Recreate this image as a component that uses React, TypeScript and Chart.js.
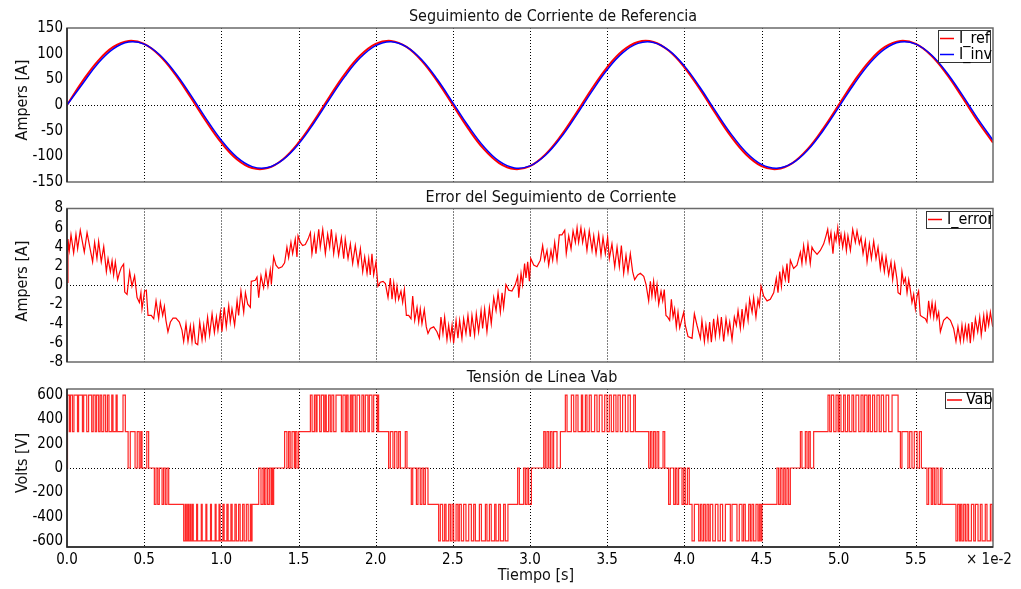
import React, { useEffect, useRef } from "react";
import { Chart, registerables } from "chart.js";

Chart.register(...registerables);

const FONT = '"DejaVu Sans Condensed", "DejaVu Sans", sans-serif';

// ---------- shared x axis (time, units of 1e-2 s) ----------
const xTickValues = [0, 0.5, 1.0, 1.5, 2.0, 2.5, 3.0, 3.5, 4.0, 4.5, 5.0, 5.5, 6.0];
const xTickLabels = ["0.0", "0.5", "1.0", "1.5", "2.0", "2.5", "3.0", "3.5", "4.0", "4.5", "5.0", "5.5", ""];
const xGridValues = [0.5, 1.0, 1.5, 2.0, 2.5, 3.0, 3.5, 4.0, 4.5, 5.0, 5.5];

// ---------- panel 1: current tracking ----------
const currentTime = [0, 0.1, 0.2, 0.3, 0.4, 0.5, 0.6, 0.7, 0.8, 0.9, 1.0, 1.1, 1.2, 1.3, 1.4, 1.5, 1.6, 1.7, 1.8, 1.9, 2.0, 2.1, 2.2, 2.3, 2.4, 2.5, 2.6, 2.7, 2.8, 2.9, 3.0, 3.1, 3.2, 3.3, 3.4, 3.5, 3.6, 3.7, 3.8, 3.9, 4.0, 4.1, 4.2, 4.3, 4.4, 4.5, 4.6, 4.7, 4.8, 4.9, 5.0, 5.1, 5.2, 5.3, 5.4, 5.5, 5.6, 5.7, 5.8, 5.9, 6.0];
const iRef = [0, 46.0, 85.6, 113.1, 124.8, 118.9, 96.3, 60.2, 15.7, -31.1, -73.5, -105.5, -122.8, -122.8, -105.5, -73.5, -31.1, 15.7, 60.2, 96.3, 118.9, 124.8, 113.1, 85.6, 46.0, 0, -46.0, -85.6, -113.1, -124.8, -118.9, -96.3, -60.2, -15.7, 31.1, 73.5, 105.5, 122.8, 122.8, 105.5, 73.5, 31.1, -15.7, -60.2, -96.3, -118.9, -124.8, -113.1, -85.6, -46.0, 0, 46.0, 85.6, 113.1, 124.8, 118.9, 96.3, 60.2, 15.7, -31.1, -73.5];
const iInv = [0, 41.0, 81.0, 109.5, 122.7, 118.6, 97.8, 63.4, 20.1, -26.1, -68.7, -101.5, -120.1, -121.9, -106.4, -76.2, -35.1, 10.9, 55.2, 91.9, 115.7, 123.3, 113.4, 87.7, 49.6, 4.6, -41.0, -81.0, -109.5, -122.7, -118.6, -97.8, -63.4, -20.1, 26.1, 68.7, 101.5, 120.1, 121.9, 106.4, 76.2, 35.1, -10.9, -55.2, -91.9, -115.7, -123.3, -113.4, -87.7, -49.6, -4.6, 41.0, 81.0, 109.5, 122.7, 118.6, 97.8, 63.4, 20.1, -26.1, -68.7];
const yTicks1 = [-150, -100, -50, 0, 50, 100, 150];

// ---------- panel 2: tracking error [time(1e-2 s), amps] ----------
const errorPoints: [number, number][] = [
  [0.000, 0.3], [0.006, 4.81], [0.015, 3.63], [0.026, 5.25], [0.043, 3.36], [0.058, 5.32], [0.069, 3.80], [0.086, 5.73],
  [0.112, 3.46], [0.130, 5.49], [0.166, 2.44], [0.179, 4.47], [0.194, 2.78], [0.205, 4.58], [0.222, 2.44], [0.238, 4.03],
  [0.255, 1.42], [0.266, 2.78], [0.281, 1.42], [0.292, 2.54], [0.302, 1.08], [0.313, 2.44], [0.328, 0.58], [0.339, 1.25],
  [0.352, 1.86], [0.367, 2.20], [0.374, -0.71], [0.389, -0.95], [0.406, 1.42], [0.421, -0.10], [0.438, 0.98], [0.454, -1.29],
  [0.469, -1.80], [0.479, -0.78], [0.486, -2.47], [0.503, -0.61], [0.514, -0.51], [0.525, -3.15], [0.546, -3.15], [0.562, -3.49],
  [0.577, -1.63], [0.594, -3.49], [0.605, -1.80], [0.620, -3.15], [0.631, -2.20], [0.641, -3.66], [0.654, -4.85], [0.670, -3.83],
  [0.687, -3.42], [0.706, -3.42], [0.728, -3.83], [0.745, -4.68], [0.756, -5.86], [0.771, -4.00], [0.784, -5.86], [0.799, -4.24],
  [0.810, -5.86], [0.821, -4.24], [0.832, -6.03], [0.847, -6.20], [0.860, -3.83], [0.875, -5.69], [0.886, -4.17], [0.896, -5.53],
  [0.911, -3.32], [0.924, -5.19], [0.940, -2.98], [0.955, -4.92], [0.968, -3.32], [0.978, -4.68], [0.994, -2.81], [1.004, -4.85],
  [1.019, -2.31], [1.032, -4.34], [1.048, -2.14], [1.058, -3.83], [1.069, -2.47], [1.086, -4.17], [1.102, -1.63], [1.112, -3.15],
  [1.127, -0.61], [1.145, -2.81], [1.156, -0.78], [1.171, -1.97], [1.188, -2.31], [1.194, 0.41], [1.210, 0.47], [1.220, 0.51],
  [1.231, 0.85], [1.242, -1.29], [1.257, 0.98], [1.274, -0.27], [1.289, 1.42], [1.302, -0.10], [1.317, 1.59], [1.324, 0.07],
  [1.339, 2.95], [1.354, 2.10], [1.371, 1.76], [1.393, 1.93], [1.410, 2.34], [1.425, 3.97], [1.436, 2.88], [1.451, 4.47],
  [1.462, 3.29], [1.479, 4.81], [1.490, 2.95], [1.497, 5.15], [1.512, 4.47], [1.527, 4.14], [1.544, 4.24], [1.562, 4.81],
  [1.577, 5.49], [1.587, 3.29], [1.603, 5.15], [1.613, 3.29], [1.631, 5.83], [1.641, 3.97], [1.657, 5.83], [1.674, 3.29],
  [1.689, 5.32], [1.702, 3.97], [1.713, 5.83], [1.728, 3.29], [1.743, 5.15], [1.760, 3.12], [1.778, 4.98], [1.793, 2.78],
  [1.803, 4.81], [1.821, 2.78], [1.836, 4.31], [1.851, 2.27], [1.868, 4.14], [1.886, 2.10], [1.901, 3.80], [1.916, 1.42],
  [1.929, 2.95], [1.944, 1.25], [1.955, 2.78], [1.965, 1.08], [1.976, 3.29], [1.987, 1.08], [2.002, 2.44], [2.015, -0.10],
  [2.030, 0.31], [2.048, 0.41], [2.063, 0.17], [2.080, -1.29], [2.095, 0.75], [2.106, -1.46], [2.117, 0.24], [2.128, -1.46],
  [2.138, -0.10], [2.149, -1.46], [2.164, -0.61], [2.175, -1.80], [2.186, -0.44], [2.199, -3.15], [2.214, -3.15], [2.229, -3.49],
  [2.240, -1.12], [2.253, -3.66], [2.268, -2.31], [2.279, -3.83], [2.289, -2.47], [2.300, -4.00], [2.315, -2.54], [2.328, -4.34],
  [2.339, -5.02], [2.354, -4.51], [2.376, -4.34], [2.397, -4.85], [2.413, -5.53], [2.423, -3.32], [2.436, -5.02], [2.447, -3.32],
  [2.462, -5.69], [2.473, -4.17], [2.484, -5.59], [2.495, -4.17], [2.505, -6.03], [2.521, -3.66], [2.533, -5.53], [2.544, -3.66],
  [2.559, -5.53], [2.570, -3.49], [2.585, -5.02], [2.598, -3.15], [2.613, -5.36], [2.624, -3.15], [2.641, -5.19], [2.652, -2.98],
  [2.667, -4.85], [2.683, -2.64], [2.693, -4.51], [2.706, -2.47], [2.721, -4.85], [2.737, -2.31], [2.749, -4.00], [2.765, -1.29],
  [2.780, -2.64], [2.793, -0.78], [2.808, -2.81], [2.819, -0.78], [2.829, -2.31], [2.844, 0.07], [2.862, -0.51], [2.883, -0.61],
  [2.905, 0.07], [2.920, 0.92], [2.927, -1.29], [2.942, 1.25], [2.952, 0.07], [2.965, 2.27], [2.974, 0.75], [2.985, 2.44],
  [2.996, 0.41], [3.005, 2.78], [3.024, 2.10], [3.045, 1.93], [3.067, 2.61], [3.082, 4.14], [3.095, 2.61], [3.110, 3.63],
  [3.121, 2.10], [3.136, 3.63], [3.147, 2.61], [3.160, 4.47], [3.175, 2.61], [3.190, 5.25], [3.207, 5.25], [3.225, 5.73],
  [3.235, 3.29], [3.251, 5.15], [3.266, 3.80], [3.279, 5.66], [3.294, 4.47], [3.305, 6.00], [3.315, 4.47], [3.330, 6.00],
  [3.341, 4.47], [3.354, 5.66], [3.369, 3.63], [3.384, 5.66], [3.402, 3.63], [3.413, 5.15], [3.428, 3.29], [3.445, 5.32],
  [3.460, 3.12], [3.473, 4.98], [3.488, 3.29], [3.503, 4.98], [3.514, 2.78], [3.531, 4.31], [3.549, 1.93], [3.564, 3.97],
  [3.579, 1.93], [3.592, 4.14], [3.607, 1.25], [3.622, 3.12], [3.635, 1.42], [3.650, 3.29], [3.665, 1.42], [3.678, 0.58],
  [3.698, 1.08], [3.715, 1.25], [3.737, 0.92], [3.752, 0.07], [3.769, -1.63], [3.780, 0.41], [3.790, -1.12], [3.801, 0.41],
  [3.812, -1.29], [3.823, 0.07], [3.834, -1.97], [3.849, -0.61], [3.860, -1.63], [3.870, -0.44], [3.881, -3.15], [3.892, -3.32],
  [3.905, -3.66], [3.916, -1.46], [3.927, -3.32], [3.937, -2.47], [3.948, -4.34], [3.959, -2.81], [3.970, -4.44], [3.985, -3.49],
  [3.996, -2.81], [4.006, -4.17], [4.024, -5.36], [4.050, -5.53], [4.065, -2.98], [4.082, -4.17], [4.104, -5.53], [4.114, -3.66],
  [4.130, -5.86], [4.140, -4.17], [4.153, -5.69], [4.164, -3.83], [4.175, -5.93], [4.190, -3.49], [4.201, -5.36], [4.216, -3.42],
  [4.229, -5.19], [4.240, -3.32], [4.255, -5.86], [4.270, -3.49], [4.283, -5.02], [4.294, -3.83], [4.309, -5.69], [4.324, -3.32],
  [4.337, -4.17], [4.348, -2.64], [4.363, -4.51], [4.374, -2.47], [4.384, -4.17], [4.400, -2.14], [4.413, -3.66], [4.423, -1.46],
  [4.439, -2.81], [4.449, -1.29], [4.464, -3.32], [4.477, -1.46], [4.486, -2.14], [4.497, -0.10], [4.514, -1.12], [4.536, -1.63],
  [4.557, -1.46], [4.579, -0.78], [4.596, 0.75], [4.607, -0.78], [4.618, 1.42], [4.629, -0.10], [4.639, 1.76], [4.654, 0.58],
  [4.665, 2.27], [4.676, 0.24], [4.687, 2.61], [4.708, 1.76], [4.730, 2.10], [4.752, 3.46], [4.762, 2.27], [4.773, 4.14],
  [4.788, 2.44], [4.801, 4.31], [4.816, 2.27], [4.827, 3.97], [4.838, 3.63], [4.860, 3.22], [4.881, 3.63], [4.903, 4.31],
  [4.918, 5.15], [4.929, 5.83], [4.939, 4.47], [4.950, 5.49], [4.963, 3.29], [4.974, 5.32], [4.983, 4.64], [4.994, 6.00],
  [5.004, 4.31], [5.015, 5.32], [5.026, 3.97], [5.039, 5.32], [5.050, 3.63], [5.060, 5.15], [5.076, 3.63], [5.091, 5.83],
  [5.108, 4.47], [5.119, 5.66], [5.134, 4.31], [5.145, 4.98], [5.158, 3.29], [5.173, 4.64], [5.184, 2.44], [5.199, 4.31],
  [5.212, 2.78], [5.227, 4.58], [5.242, 2.78], [5.255, 3.97], [5.270, 1.76], [5.281, 3.12], [5.296, 1.42], [5.307, 2.95],
  [5.324, 1.08], [5.339, 2.44], [5.350, 0.58], [5.363, 2.27], [5.378, 0.58], [5.385, -0.78], [5.400, -0.95], [5.410, 1.42],
  [5.421, 0.24], [5.432, 0.75], [5.443, -0.78], [5.454, 0.58], [5.464, -0.44], [5.475, -1.80], [5.486, -0.95], [5.497, -2.47],
  [5.508, -1.12], [5.518, -0.61], [5.529, -3.15], [5.544, -3.32], [5.562, -3.49], [5.572, -3.83], [5.583, -1.63], [5.594, -3.15],
  [5.605, -1.80], [5.616, -3.32], [5.626, -1.97], [5.637, -3.49], [5.648, -2.81], [5.659, -4.85], [5.680, -3.66], [5.702, -3.32],
  [5.724, -3.66], [5.745, -4.51], [5.760, -5.86], [5.773, -4.34], [5.788, -5.86], [5.799, -4.17], [5.810, -5.69], [5.821, -4.24],
  [5.832, -5.53], [5.842, -4.00], [5.853, -6.03], [5.864, -3.83], [5.875, -5.36], [5.886, -3.49], [5.901, -4.85], [5.914, -3.32],
  [5.924, -5.19], [5.940, -3.15], [5.950, -4.85], [5.961, -2.98], [5.972, -4.17], [5.983, -2.81], [5.998, -4.34],
];
const yTicks2 = [-8, -6, -4, -2, 0, 2, 4, 6, 8];

// ---------- panel 3: line voltage Vab ----------
// each row: [level before the switching band, alternate level, ...switching instants (1e-2 s)]
const vabBands: number[][] = [
  [0, 600, 0.003],
  [600, 300, 0.015, 0.022, 0.035, 0.045, 0.068, 0.075, 0.100, 0.108, 0.128, 0.140, 0.160, 0.170, 0.183, 0.192, 0.205, 0.215, 0.225, 0.238, 0.250, 0.262, 0.272, 0.290, 0.298, 0.318, 0.325, 0.363, 0.378],
  [300, 0, 0.396, 0.410, 0.441, 0.455, 0.468, 0.478, 0.486, 0.517, 0.529],
  [0, -300, 0.566, 0.577, 0.588, 0.598, 0.616, 0.626, 0.637, 0.648, 0.659],
  [-300, -600, 0.756, 0.766, 0.773, 0.782, 0.788, 0.797, 0.803, 0.812, 0.818, 0.840, 0.846, 0.870, 0.876, 0.900, 0.906, 0.930, 0.936, 0.960, 0.966, 0.985, 0.992, 1.010, 1.018, 1.036, 1.044, 1.062, 1.070, 1.088, 1.097, 1.112, 1.122, 1.138, 1.148, 1.162, 1.174, 1.188, 1.193, 1.199],
  [-300, 0, 1.242, 1.257, 1.270, 1.279, 1.289, 1.300, 1.311, 1.322, 1.328, 1.333, 1.339],
  [0, 300, 1.410, 1.425, 1.436, 1.446, 1.458, 1.473, 1.480, 1.490, 1.501],
  [300, 600, 1.577, 1.588, 1.603, 1.613, 1.620, 1.637, 1.648, 1.663, 1.672, 1.680, 1.695, 1.706, 1.716, 1.728, 1.743, 1.778, 1.788, 1.803, 1.812, 1.821, 1.836, 1.845, 1.853, 1.868, 1.879, 1.896, 1.911, 1.922, 1.933, 1.950, 1.959, 1.976, 1.987, 2.009, 2.013, 2.019],
  [300, 0, 2.084, 2.095, 2.112, 2.123, 2.138, 2.149, 2.160, 2.192, 2.203],
  [0, -300, 2.231, 2.240, 2.264, 2.274, 2.289, 2.300, 2.311, 2.322, 2.339],
  [-300, -600, 2.408, 2.419, 2.434, 2.447, 2.456, 2.473, 2.484, 2.495, 2.505, 2.521, 2.533, 2.542, 2.555, 2.570, 2.585, 2.603, 2.620, 2.635, 2.646, 2.672, 2.685, 2.711, 2.721, 2.737, 2.749, 2.771, 2.780, 2.797, 2.808, 2.829, 2.840, 2.857],
  [-300, 0, 2.920, 2.931, 2.959, 2.970, 2.981, 2.991, 3.009],
  [0, 300, 3.089, 3.099, 3.110, 3.121, 3.132, 3.143, 3.153, 3.175, 3.197],
  [300, 600, 3.229, 3.240, 3.268, 3.283, 3.298, 3.311, 3.333, 3.341, 3.359, 3.369, 3.384, 3.397, 3.419, 3.434, 3.449, 3.467, 3.484, 3.499, 3.514, 3.527, 3.542, 3.557, 3.570, 3.585, 3.600, 3.618, 3.635, 3.650, 3.672, 3.683],
  [300, 0, 3.769, 3.780, 3.790, 3.801, 3.812, 3.823, 3.834, 3.862, 3.873],
  [0, -300, 3.898, 3.909, 3.931, 3.942, 3.952, 3.963, 3.985, 3.996, 4.006, 4.020, 4.032],
  [-300, -600, 4.050, 4.065, 4.093, 4.104, 4.114, 4.125, 4.136, 4.147, 4.158, 4.168, 4.184, 4.201, 4.218, 4.233, 4.248, 4.266, 4.298, 4.309, 4.341, 4.356, 4.374, 4.384, 4.395, 4.417, 4.428, 4.438, 4.449, 4.464, 4.477, 4.486, 4.495, 4.503],
  [-300, 0, 4.600, 4.611, 4.622, 4.633, 4.644, 4.654, 4.665, 4.676, 4.687],
  [0, 300, 4.752, 4.762, 4.784, 4.795, 4.806, 4.816, 4.838],
  [300, 600, 4.931, 4.942, 4.953, 4.968, 4.983, 4.996, 5.004, 5.015, 5.032, 5.043, 5.058, 5.069, 5.086, 5.097, 5.112, 5.130, 5.145, 5.158, 5.168, 5.184, 5.194, 5.205, 5.220, 5.233, 5.248, 5.263, 5.276, 5.291, 5.307, 5.324, 5.346, 5.385],
  [300, 0, 5.400, 5.410, 5.449, 5.460, 5.475, 5.490, 5.508, 5.523, 5.536],
  [0, -300, 5.572, 5.583, 5.600, 5.609, 5.620, 5.631, 5.644, 5.659, 5.669],
  [-300, -600, 5.760, 5.771, 5.782, 5.790, 5.799, 5.810, 5.821, 5.832, 5.842, 5.860, 5.875, 5.886, 5.903, 5.918, 5.929, 5.950, 5.961, 5.983, 5.994],
];
const yTicks3 = [-600, -400, -200, 0, 200, 400, 600];

// ---------- text ----------
const titles = ["Seguimiento de Corriente de Referencia", "Error del Seguimiento de Corriente", "Tensión de Línea Vab"];
const yLabels = ["Ampers [A]", "Ampers [A]", "Volts [V]"];
const xLabel = "Tiempo [s]";
const xScaleNote = "× 1e-2";

type LegendItem = { label: string; color: string };

function buildVab() {
  const pts: { x: number; y: number }[] = [{ x: 0, y: 0 }];
  for (const band of vabBands) {
    const [from, alt, ...times] = band;
    times.forEach((t, i) => pts.push({ x: t, y: i % 2 === 0 ? alt : from }));
  }
  pts.push({ x: 6, y: pts[pts.length - 1].y });
  return pts;
}

function decoPlugin(cfg: {
  offsetTop: number;
  title: string;
  titleX: number;
  titleY: number;
  yLabel: string;
  yLabelY: number;
  legend: LegendItem[];
  legendBox: [number, number, number, number];
  legendLine: [number, number];
  legendTextX: number;
  legendRowY: number[];
  bottomAxis?: boolean;
}) {
  const off = cfg.offsetTop;
  return {
    id: "deco",
    beforeDatasetsDraw(chart: any) {
      const { ctx, chartArea: a, scales } = chart;
      ctx.save();
      ctx.strokeStyle = "#000";
      ctx.lineWidth = 1;
      ctx.setLineDash([1, 2]);
      ctx.beginPath();
      for (const v of xGridValues) {
        const px = Math.round(scales.x.getPixelForValue(v)) + 0.5;
        ctx.moveTo(px, a.top);
        ctx.lineTo(px, a.bottom);
      }
      const py = Math.round(scales.y.getPixelForValue(0)) + 0.5;
      ctx.moveTo(a.left, py);
      ctx.lineTo(a.right, py);
      ctx.stroke();
      ctx.restore();
    },
    afterDraw(chart: any) {
      const { ctx, chartArea: a } = chart;
      ctx.save();
      // frame
      ctx.strokeStyle = "#6a6a6a";
      ctx.lineWidth = 1.5;
      ctx.strokeRect(a.left, a.top, a.right - a.left, a.bottom - a.top);
      ctx.strokeStyle = "#222";
      ctx.beginPath();
      ctx.moveTo(a.left, a.top);
      ctx.lineTo(a.left, a.bottom);
      if (cfg.bottomAxis) ctx.lineTo(a.right, a.bottom);
      ctx.stroke();

      // legend (clipped to plot area)
      ctx.save();
      ctx.beginPath();
      ctx.rect(a.left, a.top, a.right - a.left, a.bottom - a.top);
      ctx.clip();
      const [bx, by, bw, bh] = cfg.legendBox;
      ctx.fillStyle = "rgba(255,255,255,0.85)";
      ctx.fillRect(bx, by - off, bw, bh);
      ctx.strokeStyle = "#333";
      ctx.lineWidth = 1;
      ctx.strokeRect(bx + 0.5, by - off + 0.5, bw, bh);
      ctx.font = `16px ${FONT}`;
      ctx.textAlign = "left";
      ctx.textBaseline = "middle";
      cfg.legend.forEach((it, i) => {
        const ry = cfg.legendRowY[i] - off;
        ctx.strokeStyle = it.color;
        ctx.lineWidth = 1.5;
        ctx.beginPath();
        ctx.moveTo(cfg.legendLine[0], ry);
        ctx.lineTo(cfg.legendLine[1], ry);
        ctx.stroke();
        ctx.fillStyle = "#000";
        ctx.fillText(it.label, cfg.legendTextX, ry);
      });
      ctx.restore();

      // title
      ctx.fillStyle = "#111";
      ctx.font = `16px ${FONT}`;
      ctx.textAlign = "center";
      ctx.textBaseline = "middle";
      ctx.fillText(cfg.title, cfg.titleX, cfg.titleY - off);

      // y label
      ctx.save();
      ctx.translate(22.5, cfg.yLabelY - off);
      ctx.rotate(-Math.PI / 2);
      ctx.font = `16px ${FONT}`;
      ctx.fillText(cfg.yLabel, 0, 0);
      ctx.restore();

      if (cfg.bottomAxis) {
        ctx.font = `15px ${FONT}`;
        ctx.textAlign = "left";
        ctx.fillText(xScaleNote, 966, 560 - off);
        ctx.textAlign = "center";
        ctx.font = `16px ${FONT}`;
        ctx.fillText(xLabel, 536, 576 - off);
      }
      ctx.restore();
    },
  };
}

function makeConfig(opts: {
  datasets: any[];
  yMin: number;
  yMax: number;
  yTicks: number[];
  padTop: number;
  padBottom: number;
  bottomAxis: boolean;
  plugin: any;
}) {
  return {
    type: "line",
    data: { datasets: opts.datasets },
    options: {
      animation: false,
      responsive: false,
      devicePixelRatio: 1,
      layout: { padding: { left: 0, right: 28, top: opts.padTop, bottom: opts.padBottom } },
      plugins: { legend: { display: false }, tooltip: { enabled: false }, title: { display: false } },
      elements: { point: { radius: 0, hoverRadius: 0 } },
      scales: {
        x: {
          type: "linear",
          min: 0,
          max: 6,
          display: opts.bottomAxis,
          grid: { display: false, drawTicks: false, tickLength: 0 },
          border: { display: false },
          afterBuildTicks: (s: any) => {
            s.ticks = xTickValues.map((v) => ({ value: v }));
          },
          afterFit: (s: any) => {
            s.height = opts.bottomAxis ? 42 : 0;
          },
          ticks: {
            autoSkip: false,
            maxRotation: 0,
            padding: 4,
            color: "#000",
            font: { family: FONT, size: 15 },
            callback: (_v: any, i: number) => xTickLabels[i],
          },
        },
        y: {
          type: "linear",
          min: opts.yMin,
          max: opts.yMax,
          grid: { display: false, drawTicks: false, tickLength: 0 },
          border: { display: false },
          afterBuildTicks: (s: any) => {
            s.ticks = opts.yTicks.map((v) => ({ value: v }));
          },
          afterFit: (s: any) => {
            s.width = 67;
          },
          ticks: {
            autoSkip: false,
            padding: 4,
            color: "#000",
            font: { family: FONT, size: 15 },
            callback: (v: any) => String(v),
          },
        },
      },
    },
    plugins: [opts.plugin],
  };
}

export default function App() {
  const c1 = useRef<HTMLCanvasElement>(null);
  const c2 = useRef<HTMLCanvasElement>(null);
  const c3 = useRef<HTMLCanvasElement>(null);

  useEffect(() => {
    const refData = currentTime.map((t, i) => ({ x: t, y: iRef[i] }));
    const invData = currentTime.map((t, i) => ({ x: t, y: iInv[i] }));
    const errData = errorPoints.map(([t, v]) => ({ x: t, y: v }));
    const vabData = buildVab();

    const chart1 = new Chart(
      c1.current as HTMLCanvasElement,
      makeConfig({
        datasets: [
          { label: "I_inv", data: invData, borderColor: "#0000ff", borderWidth: 1.5, tension: 0.4, fill: false },
          { label: "I_ref", data: refData, borderColor: "#ff0000", borderWidth: 2, tension: 0.4, fill: false },
        ],
        yMin: -150,
        yMax: 150,
        yTicks: yTicks1,
        padTop: 28,
        padBottom: 10,
        bottomAxis: false,
        plugin: decoPlugin({
          offsetTop: 0,
          title: titles[0],
          titleX: 553,
          titleY: 17,
          yLabel: yLabels[0],
          yLabelY: 100,
          legend: [
            { label: "I_ref", color: "#ff0000" },
            { label: "I_inv", color: "#0000ff" },
          ],
          legendBox: [938, 30, 52, 32],
          legendLine: [940, 954],
          legendTextX: 959,
          legendRowY: [38.5, 54.5],
        }),
      }) as any
    );

    const chart2 = new Chart(
      c2.current as HTMLCanvasElement,
      makeConfig({
        datasets: [{ label: "I_error", data: errData, borderColor: "#ff0000", borderWidth: 1.2, tension: 0, fill: false }],
        yMin: -8,
        yMax: 8,
        yTicks: yTicks2,
        padTop: 18.5,
        padBottom: 9,
        bottomAxis: false,
        plugin: decoPlugin({
          offsetTop: 190,
          title: titles[1],
          titleX: 551,
          titleY: 198,
          yLabel: yLabels[1],
          yLabelY: 281,
          legend: [{ label: "I_error", color: "#ff0000" }],
          legendBox: [926, 211, 64, 17],
          legendLine: [928, 942],
          legendTextX: 947,
          legendRowY: [219.5],
        }),
      }) as any
    );

    const chart3 = new Chart(
      c3.current as HTMLCanvasElement,
      makeConfig({
        datasets: [
          { label: "Vab", data: vabData, borderColor: "rgba(255,0,0,0.85)", borderWidth: 1.2, stepped: true, fill: false },
        ],
        yMin: -650,
        yMax: 650,
        yTicks: yTicks3,
        padTop: 19,
        padBottom: 0,
        bottomAxis: true,
        plugin: decoPlugin({
          offsetTop: 370,
          title: titles[2],
          titleX: 542,
          titleY: 378,
          yLabel: yLabels[2],
          yLabelY: 463,
          legend: [{ label: "Vab", color: "#ff0000" }],
          legendBox: [945, 392, 45, 16],
          legendLine: [947, 962],
          legendTextX: 966,
          legendRowY: [400],
          bottomAxis: true,
        }),
      }) as any
    );

    return () => {
      chart1.destroy();
      chart2.destroy();
      chart3.destroy();
    };
  }, []);

  const base: React.CSSProperties = { position: "absolute", left: 0, display: "block" };
  return (
    <div style={{ position: "fixed", left: 0, top: 0, width: 1021, height: 589, background: "#fff" }}>
      <canvas ref={c1} width={1021} height={195} style={{ ...base, top: 0, width: 1021, height: 195 }} />
      <canvas ref={c2} width={1021} height={185} style={{ ...base, top: 190, width: 1021, height: 185 }} />
      <canvas ref={c3} width={1021} height={219} style={{ ...base, top: 370, width: 1021, height: 219 }} />
    </div>
  );
}
